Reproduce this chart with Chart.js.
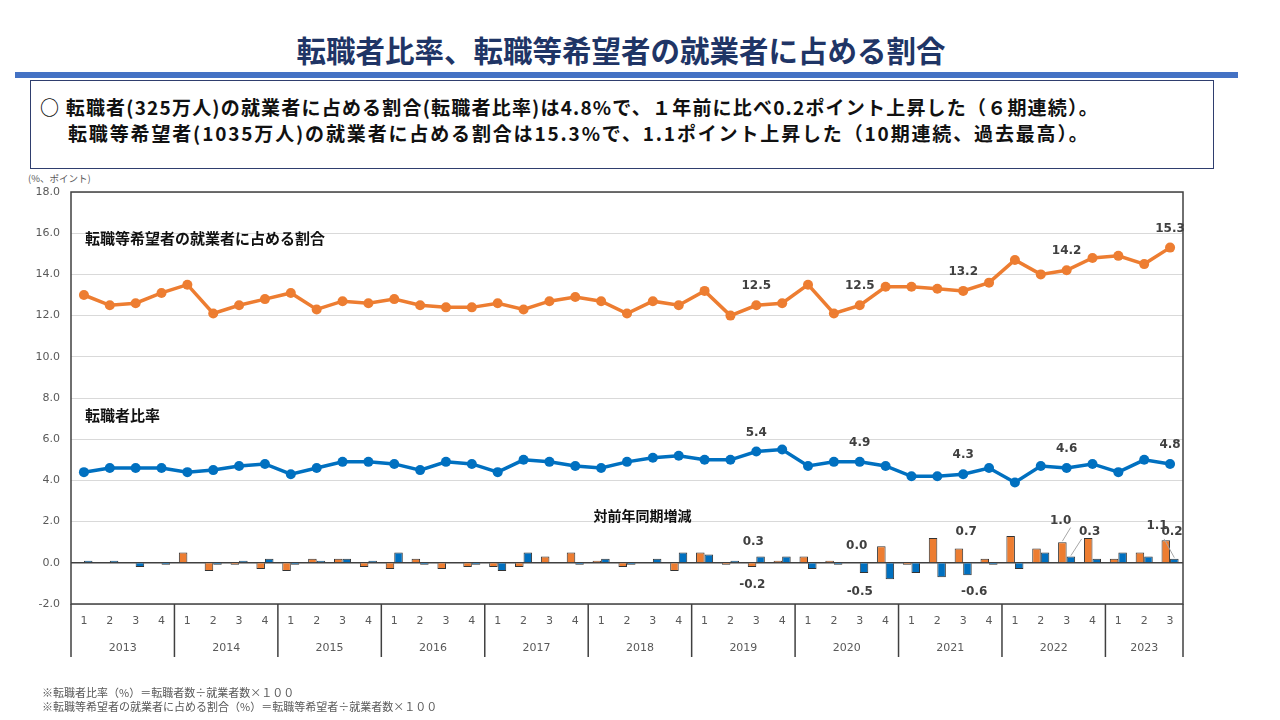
<!DOCTYPE html>
<html lang="ja">
<head>
<meta charset="utf-8">
<script src="https://cdn.jsdelivr.net/npm/chart.js@4.4.1/dist/chart.umd.min.js"></script>
<style>
  body { margin: 0; width: 1280px; height: 720px; background: #fff; position: relative; overflow: hidden;
         font-family: "Noto Sans CJK JP", "Noto Sans", sans-serif; }
  #title { position: absolute; left: 0; top: 30px; width: 1242px; text-align: center; font-size: 29.5px;
           font-weight: bold; color: #1f3566; line-height: 38px; }
  #rule { position: absolute; left: 15px; top: 72px; width: 1223px; height: 6px; background: #4472c4; }
  #box { position: absolute; left: 30px; top: 80px; width: 1184px; height: 89px; border: 1px solid #2f3e6e;
         box-sizing: border-box; }
  .msg { position: absolute; font-size: 19px; font-weight: bold; color: #111; white-space: nowrap; line-height: 24px;
         letter-spacing: 1.2px; }
  #unit { position: absolute; left: 28px; top: 171px; font-size: 9.5px; color: #595959; }
  .note { position: absolute; left: 42px; font-size: 11px; color: #595959; white-space: nowrap; line-height: 14px; }
  #wrap { position: absolute; left: 0; top: 170px; width: 1280px; height: 550px; }
</style>
</head>
<body>
<div id="title">転職者比率、転職等希望者の就業者に占める割合</div>
<div id="rule"></div>
<div id="box"></div>
<div class="msg" style="left:40px; top:95px;">○ 転職者(325万人)の就業者に占める割合(転職者比率)は4.8%で、１年前に比べ0.2ポイント上昇した（６期連続）。</div>
<div class="msg" style="left:68px; top:121px; letter-spacing:1.85px;">転職等希望者(1035万人)の就業者に占める割合は15.3%で、1.1ポイント上昇した（10期連続、過去最高）。</div>
<div id="unit">(%、ポイント)</div>
<div id="wrap"><canvas id="chart" width="1280" height="550"></canvas></div>
<div class="note" style="top:685px;">※転職者比率（%）＝転職者数÷就業者数×１００</div>
<div class="note" style="top:699px;">※転職等希望者の就業者に占める割合（%）＝転職等希望者÷就業者数×１００</div>
<script>
// 年・四半期
const years = ["2013", "2014", "2015", "2016", "2017", "2018", "2019", "2020", "2021", "2022", "2023"];
const quarters = [];
years.forEach(y => {
  const n = y === "2023" ? 3 : 4;
  for (let q = 1; q <= n; q++) quarters.push(y + "-" + q);
});

// 転職等希望者の就業者に占める割合 (%)
const kiboRatio = [13.0, 12.5, 12.6, 13.1, 13.5, 12.1, 12.5, 12.8, 13.1, 12.3, 12.7, 12.6, 12.8, 12.5, 12.4, 12.4,
  12.6, 12.3, 12.7, 12.9, 12.7, 12.1, 12.7, 12.5, 13.2, 12.0, 12.5, 12.6, 13.5, 12.1, 12.5, 13.4,
  13.4, 13.3, 13.2, 13.6, 14.7, 14.0, 14.2, 14.8, 14.9, 14.5, 15.3];
// 転職者比率 (%)
const tenshokuRatio = [4.4, 4.6, 4.6, 4.6, 4.4, 4.5, 4.7, 4.8, 4.3, 4.6, 4.9, 4.9, 4.8, 4.5, 4.9, 4.8,
  4.4, 5.0, 4.9, 4.7, 4.6, 4.9, 5.1, 5.2, 5.0, 5.0, 5.4, 5.5, 4.7, 4.9, 4.9, 4.7,
  4.2, 4.2, 4.3, 4.6, 3.9, 4.7, 4.6, 4.8, 4.4, 5.0, 4.8];
// 対前年同期増減 (ポイント)
const kiboDiff = [0.0, 0.0, 0.0, 0.0, 0.5, -0.4, -0.1, -0.3, -0.4, 0.2, 0.2, -0.2, -0.3, 0.2, -0.3, -0.2,
  -0.2, -0.2, 0.3, 0.5, 0.1, -0.2, 0.0, -0.4, 0.5, -0.1, -0.2, 0.1, 0.3, 0.1, 0.0, 0.8,
  -0.1, 1.2, 0.7, 0.2, 1.3, 0.7, 1.0, 1.2, 0.2, 0.5, 1.1];
const tenshokuDiff = [0.1, 0.1, -0.2, -0.1, 0.0, -0.1, 0.1, 0.2, -0.1, 0.1, 0.2, 0.1, 0.5, -0.1, 0.0, -0.1,
  -0.4, 0.5, 0.0, -0.1, 0.2, -0.1, 0.2, 0.5, 0.4, 0.1, 0.3, 0.3, -0.3, -0.1, -0.5, -0.8,
  -0.5, -0.7, -0.6, -0.1, -0.3, 0.5, 0.3, 0.2, 0.5, 0.3, 0.2];
const yTicks = [-2, 0, 2, 4, 6, 8, 10, 12, 14, 16, 18];

const ORANGE = "#ed7d31";
const BLUE = "#0070c0";
const LABEL_COLOR = "#404040";

// データラベル (dataset, index, ラベル位置の値, 横ずれ, 引出線)
const lineLabels = [
  { ds: 2, i: 26 }, { ds: 2, i: 30 }, { ds: 2, i: 34 }, { ds: 2, i: 38 }, { ds: 2, i: 42 },
  { ds: 3, i: 26 }, { ds: 3, i: 30 }, { ds: 3, i: 34 }, { ds: 3, i: 38 }, { ds: 3, i: 42 }
];
const barLabels = [
  { ds: 1, i: 26, at: 1.0, dx: -3 }, { ds: 0, i: 26, at: -1.05, dx: -4 },
  { ds: 0, i: 30, at: 0.8, dx: -3 }, { ds: 1, i: 30, at: -1.4, dx: 0 },
  { ds: 0, i: 34, at: 1.5, dx: 3 }, { ds: 1, i: 34, at: -1.4, dx: 11 },
  { ds: 0, i: 38, at: 2.05, dx: -6, lead: true }, { ds: 1, i: 38, at: 1.5, dx: 23, lead: true },
  { ds: 0, i: 42, at: 1.8, dx: -13 }, { ds: 1, i: 42, at: 1.5, dx: 2, lead: true }
];

const decorPlugin = {
  id: "decor",
  beforeDatasetsDraw(chart) {
    const { ctx, chartArea: a, scales: { y } } = chart;
    ctx.save();
    // 0 の線
    const y0 = y.getPixelForValue(0);
    ctx.strokeStyle = "#404040";
    ctx.lineWidth = 1.5;
    ctx.beginPath(); ctx.moveTo(a.left, y0); ctx.lineTo(a.right, y0); ctx.stroke();
    ctx.restore();
  },
  afterDraw(chart) {
    const { ctx, chartArea: a, scales: { x, y } } = chart;
    ctx.save();
    // 枠
    ctx.strokeStyle = "#404040";
    ctx.lineWidth = 1.5;
    ctx.strokeRect(a.left, a.top, a.right - a.left, a.bottom - a.top);

    // 横軸 (四半期・年)
    const cw = x.getPixelForValue(1) - x.getPixelForValue(0);
    ctx.fillStyle = "#595959";
    ctx.font = "11px 'DejaVu Sans'";
    ctx.textAlign = "center";
    ctx.textBaseline = "middle";
    quarters.forEach((q, i) => {
      ctx.fillText(q.split("-")[1], x.getPixelForValue(i), a.bottom + 17);
    });
    ctx.strokeStyle = "#404040";
    ctx.lineWidth = 1.5;
    let start = 0;
    years.forEach(yr => {
      const n = quarters.filter(q => q.startsWith(yr)).length;
      const x1 = x.getPixelForValue(start) - cw / 2;
      const x2 = x.getPixelForValue(start + n - 1) + cw / 2;
      ctx.beginPath(); ctx.moveTo(x1, a.bottom); ctx.lineTo(x1, a.bottom + 53); ctx.stroke();
      ctx.fillText(yr, (x1 + x2) / 2, a.bottom + 44);
      start += n;
    });
    ctx.beginPath(); ctx.moveTo(a.right, a.bottom); ctx.lineTo(a.right, a.bottom + 53); ctx.stroke();

    // 系列名
    ctx.fillStyle = "#111";
    ctx.textAlign = "left";
    ctx.font = "bold 15px 'Noto Sans CJK JP'";
    ctx.fillText("転職等希望者の就業者に占める割合", a.left + 14, y.getPixelForValue(15.75));
    ctx.fillText("転職者比率", a.left + 14, y.getPixelForValue(7.15));
    ctx.textAlign = "center";
    ctx.font = "bold 14px 'Noto Sans CJK JP'";
    ctx.fillText("対前年同期増減", x.getPixelForValue(21.6), y.getPixelForValue(2.3));

    // データラベル
    ctx.font = "bold 12px 'DejaVu Sans'";
    ctx.fillStyle = LABEL_COLOR;
    lineLabels.forEach(l => {
      const p = chart.getDatasetMeta(l.ds).data[l.i];
      const v = chart.data.datasets[l.ds].data[l.i];
      ctx.fillText(v.toFixed(1), p.x, p.y - 19);
    });
    barLabels.forEach(l => {
      const p = chart.getDatasetMeta(l.ds).data[l.i];
      const v = chart.data.datasets[l.ds].data[l.i];
      const lx = x.getPixelForValue(l.i) + l.dx;
      const ly = y.getPixelForValue(l.at);
      if (l.lead) {
        ctx.strokeStyle = "#a6a6a6";
        ctx.lineWidth = 1;
        ctx.beginPath();
        ctx.moveTo(l.dx > 0 ? lx - 8 : lx + 10, ly + 7);
        ctx.lineTo(p.x, p.y - 1);
        ctx.stroke();
      }
      ctx.fillText(v.toFixed(1), lx, ly);
    });
    ctx.restore();
  }
};

new Chart(document.getElementById("chart"), {
  type: "bar",
  data: {
    labels: quarters,
    datasets: [
      { type: "bar", data: kiboDiff, backgroundColor: ORANGE, borderColor: "#333", borderWidth: 1,
        categoryPercentage: 0.66, barPercentage: 1.0, order: 3 },
      { type: "bar", data: tenshokuDiff, backgroundColor: BLUE, borderColor: "#333", borderWidth: 1,
        categoryPercentage: 0.66, barPercentage: 1.0, order: 3 },
      { type: "line", data: kiboRatio, borderColor: ORANGE, backgroundColor: ORANGE, borderWidth: 3.5,
        pointRadius: 5, pointBorderWidth: 0, tension: 0, order: 1 },
      { type: "line", data: tenshokuRatio, borderColor: BLUE, backgroundColor: BLUE, borderWidth: 3.5,
        pointRadius: 5, pointBorderWidth: 0, tension: 0, order: 1 }
    ]
  },
  options: {
    responsive: false,
    animation: false,
    layout: { padding: { top: 22, right: 97, bottom: 116, left: 0 } },
    plugins: { legend: { display: false }, tooltip: { enabled: false } },
    scales: {
      x: { display: false, offset: true },
      y: {
        min: -2, max: 18,
        afterFit(scale) { scale.width = 71; },
        afterBuildTicks(scale) { scale.ticks = yTicks.map(v => ({ value: v })); },
        ticks: { callback: v => v.toFixed(1), color: "#595959", font: { family: "DejaVu Sans", size: 11 }, padding: 11 },
        grid: { color: "#d9d9d9", drawTicks: false },
        border: { display: false }
      }
    }
  },
  plugins: [decorPlugin]
});
</script>
</body>
</html>
